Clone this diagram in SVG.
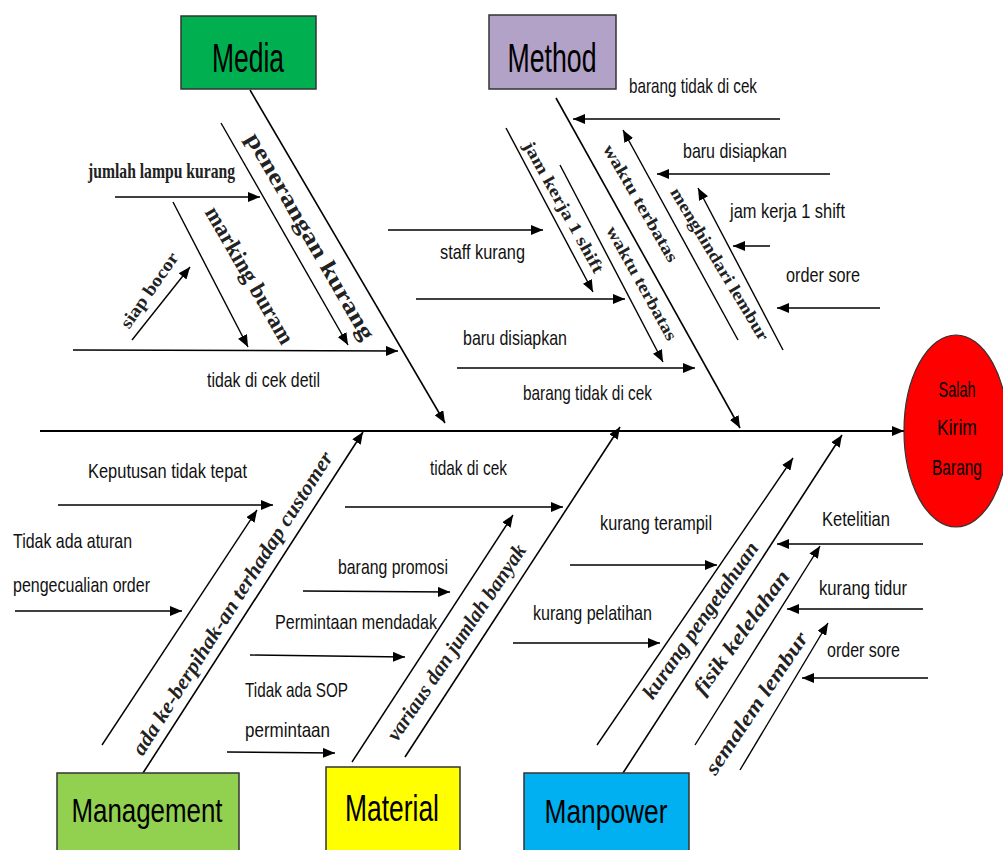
<svg xmlns="http://www.w3.org/2000/svg" width="1003" height="850" viewBox="0 0 1003 850">
<defs>
<marker id="ah" viewBox="0 0 12 10" refX="12" refY="5" markerWidth="12" markerHeight="10" markerUnits="userSpaceOnUse" orient="auto"><path d="M0,0 L12,5 L0,10 z" fill="#000"/></marker>
<style>
.ln{stroke:#000;stroke-width:1.4;fill:none;marker-end:url(#ah)}
.bone{stroke:#000;stroke-width:1.6;fill:none;marker-end:url(#ah)}
.lb{font-family:"Liberation Sans",Arial,sans-serif;font-size:21px;fill:#111}
.rl{font-family:"Liberation Serif","Times New Roman",serif;font-weight:bold;fill:#222}
.ri{font-family:"Liberation Serif","Times New Roman",serif;font-weight:bold;font-style:italic;font-size:21px;fill:#222}
.box{stroke:#333;stroke-width:1.5}
.bt{font-family:"Liberation Sans",Arial,sans-serif;fill:#000;text-anchor:middle}
</style>
</defs>
<rect width="1003" height="850" fill="#fff"/>

<g id="connectors">
<line class="bone" x1="40" y1="431" x2="904" y2="431" style="stroke-width:2"/>
<line class="bone" x1="250" y1="90" x2="445" y2="423"/>
<line class="bone" x1="556" y1="98" x2="740" y2="428"/>
<line class="bone" x1="143" y1="773" x2="363" y2="432"/>
<line class="bone" x1="405" y1="757" x2="620" y2="427"/>
<line class="bone" x1="623" y1="773" x2="842" y2="435"/>
<!-- Media -->
<line class="ln" x1="221" y1="123" x2="348" y2="345"/>
<line class="ln" x1="115" y1="197" x2="260" y2="197"/>
<line class="ln" x1="173" y1="202" x2="248" y2="347"/>
<line class="ln" x1="132" y1="340" x2="190" y2="267"/>
<line class="ln" x1="73" y1="350" x2="398" y2="351"/>
<!-- Method -->
<line class="ln" x1="780" y1="119" x2="573" y2="119"/>
<line class="ln" x1="738" y1="340" x2="623" y2="130"/>
<line class="ln" x1="830" y1="174" x2="657" y2="174"/>
<line class="ln" x1="783" y1="350" x2="698" y2="188"/>
<line class="ln" x1="770" y1="246" x2="733" y2="246"/>
<line class="ln" x1="880" y1="308" x2="777" y2="308"/>
<line class="ln" x1="506" y1="128" x2="593" y2="292"/>
<line class="ln" x1="560" y1="165" x2="663" y2="362"/>
<line class="ln" x1="388" y1="230" x2="543" y2="230"/>
<line class="ln" x1="416" y1="299" x2="625" y2="299"/>
<line class="ln" x1="457" y1="368" x2="695" y2="368"/>
<!-- Management -->
<line class="ln" x1="102" y1="745" x2="257" y2="510"/>
<line class="ln" x1="58" y1="505" x2="273" y2="505"/>
<line class="ln" x1="15" y1="611" x2="182" y2="611"/>
<!-- Material -->
<line class="ln" x1="352" y1="762" x2="513" y2="515"/>
<line class="ln" x1="345" y1="507" x2="563" y2="507"/>
<line class="ln" x1="303" y1="591" x2="450" y2="592"/>
<line class="ln" x1="250" y1="655" x2="405" y2="657"/>
<line class="ln" x1="227" y1="752" x2="335" y2="753"/>
<!-- Manpower -->
<line class="ln" x1="597" y1="745" x2="793" y2="458"/>
<line class="ln" x1="695" y1="745" x2="820" y2="546"/>
<line class="ln" x1="740" y1="770" x2="828" y2="623"/>
<line class="ln" x1="923" y1="544" x2="777" y2="544"/>
<line class="ln" x1="923" y1="609" x2="787" y2="609"/>
<line class="ln" x1="928" y1="678" x2="802" y2="678"/>
<line class="ln" x1="570" y1="565" x2="717" y2="565"/>
<line class="ln" x1="513" y1="643" x2="660" y2="643"/>
</g>

<g id="labels">
<text class="rl" font-size="21" x="88" y="178" textLength="147" lengthAdjust="spacingAndGlyphs">jumlah lampu kurang</text>
<text class="rl" font-size="23" text-anchor="middle" dy="0.35em" transform="translate(311,236) rotate(60)" textLength="235" lengthAdjust="spacingAndGlyphs">penerangan kurang</text>
<text class="rl" font-size="23" text-anchor="middle" dy="0.35em" transform="translate(250,275) rotate(60)" textLength="155" lengthAdjust="spacingAndGlyphs">marking buram</text>
<text class="rl" font-size="18" text-anchor="middle" dy="0.35em" transform="translate(149,290) rotate(-55)" textLength="88" lengthAdjust="spacingAndGlyphs">siap bocor</text>
<text class="lb" x="207" y="387" textLength="113" lengthAdjust="spacingAndGlyphs">tidak di cek detil</text>

<text class="lb" x="629" y="93" textLength="128" lengthAdjust="spacingAndGlyphs">barang tidak di cek</text>
<text class="lb" x="683" y="158" textLength="104" lengthAdjust="spacingAndGlyphs">baru disiapkan</text>
<text class="lb" x="730" y="218" textLength="115" lengthAdjust="spacingAndGlyphs">jam kerja 1 shift</text>
<text class="lb" x="786" y="282" textLength="74" lengthAdjust="spacingAndGlyphs">order sore</text>
<text class="lb" x="440" y="259" textLength="85" lengthAdjust="spacingAndGlyphs">staff kurang</text>
<text class="lb" x="463" y="345" textLength="104" lengthAdjust="spacingAndGlyphs">baru disiapkan</text>
<text class="lb" x="523" y="400" textLength="129" lengthAdjust="spacingAndGlyphs">barang tidak di cek</text>
<text class="rl" font-size="17" text-anchor="middle" dy="0.35em" transform="translate(564,207) rotate(61)" textLength="148" lengthAdjust="spacingAndGlyphs">jam kerja  1  shift</text>
<text class="rl" font-size="17" text-anchor="middle" dy="0.35em" transform="translate(642,283) rotate(61)" textLength="128" lengthAdjust="spacingAndGlyphs">waktu terbatas</text>
<text class="rl" font-size="17" text-anchor="middle" dy="0.35em" transform="translate(641,203) rotate(60)" textLength="133" lengthAdjust="spacingAndGlyphs">waktu terbatas</text>
<text class="rl" font-size="17" text-anchor="middle" dy="0.35em" transform="translate(720,264) rotate(59)" textLength="175" lengthAdjust="spacingAndGlyphs">menghindari lembur</text>

<text class="lb" x="88" y="478" textLength="159" lengthAdjust="spacingAndGlyphs">Keputusan tidak tepat</text>
<text class="lb" x="13" y="548" textLength="119" lengthAdjust="spacingAndGlyphs">Tidak ada aturan</text>
<text class="lb" x="13" y="592" textLength="137" lengthAdjust="spacingAndGlyphs">pengecualian order</text>
<text class="ri" text-anchor="middle" dy="0.35em" transform="translate(232,603) rotate(-57.5)" textLength="355" lengthAdjust="spacingAndGlyphs">ada ke-berpihak-an terhadap customer</text>

<text class="lb" x="430" y="475" textLength="77" lengthAdjust="spacingAndGlyphs">tidak di cek</text>
<text class="lb" x="338" y="574" textLength="110" lengthAdjust="spacingAndGlyphs">barang promosi</text>
<text class="lb" x="275" y="629" textLength="162" lengthAdjust="spacingAndGlyphs">Permintaan mendadak</text>
<text class="lb" x="245" y="697" textLength="103" lengthAdjust="spacingAndGlyphs">Tidak ada SOP</text>
<text class="lb" x="245" y="737" textLength="85" lengthAdjust="spacingAndGlyphs">permintaan</text>
<text class="ri" text-anchor="middle" dy="0.35em" transform="translate(456,642) rotate(-56)" textLength="232" lengthAdjust="spacingAndGlyphs">variaus dan jumlah banyak</text>

<text class="lb" x="600" y="530" textLength="112" lengthAdjust="spacingAndGlyphs">kurang terampil</text>
<text class="lb" x="533" y="620" textLength="119" lengthAdjust="spacingAndGlyphs">kurang pelatihan</text>
<text class="lb" x="822" y="526" textLength="68" lengthAdjust="spacingAndGlyphs">Ketelitian</text>
<text class="lb" x="819" y="595" textLength="88" lengthAdjust="spacingAndGlyphs">kurang tidur</text>
<text class="lb" x="827" y="657" textLength="73" lengthAdjust="spacingAndGlyphs">order sore</text>
<text class="ri" text-anchor="middle" dy="0.35em" transform="translate(700,620) rotate(-55)" textLength="186" lengthAdjust="spacingAndGlyphs">kurang pengetahuan</text>
<text class="ri" text-anchor="middle" dy="0.35em" transform="translate(741,632) rotate(-54)" textLength="148" lengthAdjust="spacingAndGlyphs">fisik kelelahan</text>
<text class="ri" text-anchor="middle" dy="0.35em" transform="translate(756,703) rotate(-56)" textLength="167" lengthAdjust="spacingAndGlyphs">semalem lembur</text>
</g>

<g id="media">
<rect class="box" x="181" y="16" width="135" height="73" fill="#00b050"/>
<text class="bt" x="248" y="72" font-size="40" textLength="72" lengthAdjust="spacingAndGlyphs">Media</text>
</g>
<g id="method">
<rect class="box" x="489" y="15" width="127" height="74" fill="#b2a2c7"/>
<text class="bt" x="552" y="72" font-size="40" textLength="89" lengthAdjust="spacingAndGlyphs">Method</text>
</g>
<g id="management">
<rect class="box" x="57" y="773" width="182" height="85" fill="#92d050"/>
<text class="bt" x="147" y="822" font-size="34" textLength="151" lengthAdjust="spacingAndGlyphs">Management</text>
</g>
<g id="material">
<rect class="box" x="326" y="767" width="134" height="91" fill="#ffff00"/>
<text class="bt" x="392" y="821" font-size="37" textLength="94" lengthAdjust="spacingAndGlyphs">Material</text>
</g>
<g id="manpower">
<rect class="box" x="524" y="773" width="165" height="85" fill="#00b0f0"/>
<text class="bt" x="606" y="823" font-size="34" textLength="123" lengthAdjust="spacingAndGlyphs">Manpower</text>
</g>
<g id="head">
<ellipse cx="956" cy="431" rx="52" ry="96" fill="#ff0000" stroke="#333" stroke-width="1.2"/>
<text class="bt" x="957" y="397" font-size="22" textLength="37" lengthAdjust="spacingAndGlyphs" fill="#222">Salah</text>
<text class="bt" x="957" y="435" font-size="22" textLength="40" lengthAdjust="spacingAndGlyphs" fill="#222">Kirim</text>
<text class="bt" x="957" y="475" font-size="22" textLength="50" lengthAdjust="spacingAndGlyphs" fill="#222">Barang</text>
</g>
</svg>
